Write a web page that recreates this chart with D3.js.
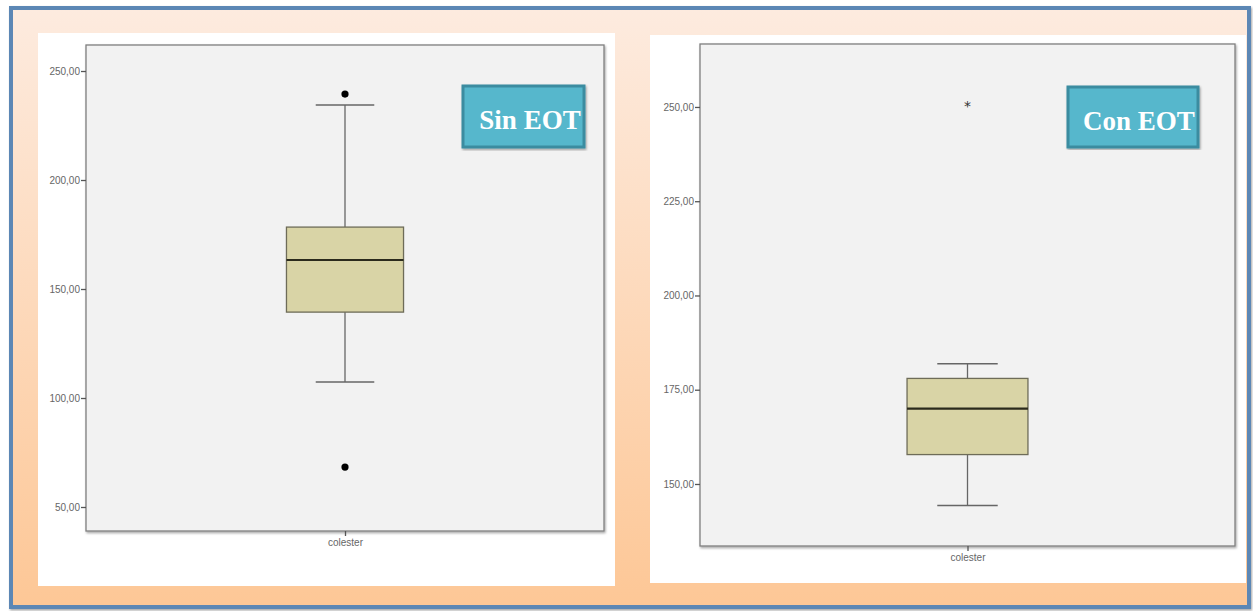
<!DOCTYPE html>
<html>
<head>
<meta charset="utf-8">
<script src="https://cdn.jsdelivr.net/npm/d3@7"></script>
<style>
  html, body { margin: 0; padding: 0; background: #ffffff; }
  svg { display: block; }
</style>
</head>
<body>
<svg id="chart" width="1253" height="611"></svg>
<script>
// ---- data ----
const groups = ["Sin EOT", "Con EOT"];
const category = ["colester"];
const whiskerLow  = [107.3, 144.3];
const q1          = [139.4, 157.8];
const median      = [163.3, 170.0];
const q3          = [178.4, 178.0];
const whiskerHigh = [234.4, 181.9];
const outliers    = [[239.4, 68.3], []];      // circles
const extremes    = [[], [251.0]];            // stars
const yTicksLeft  = [50, 100, 150, 200, 250];
const yTicksRight = [150, 175, 200, 225, 250];
const yDomains    = [[38.99, 261.93], [133.55, 266.7]];

// ---- layout ----
const svg = d3.select("#chart");
const defs = svg.append("defs");
const grad = defs.append("linearGradient").attr("id", "bg").attr("x1", 0).attr("y1", 0).attr("x2", 0).attr("y2", 1);
grad.append("stop").attr("offset", "0%").attr("stop-color", "#fdebdf");
grad.append("stop").attr("offset", "100%").attr("stop-color", "#fdc796");
const sh = defs.append("filter").attr("id", "shadow").attr("x", "-5%").attr("y", "-5%").attr("width", "110%").attr("height", "110%");
sh.append("feDropShadow").attr("dx", 1).attr("dy", 1.5).attr("stdDeviation", 1.2).attr("flood-color", "#000").attr("flood-opacity", 0.35);

// outer frame
svg.append("rect").attr("x", 11).attr("y", 8).attr("width", 1238).attr("height", 599)
  .attr("fill", "url(#bg)").attr("stroke", "#5b87b5").attr("stroke-width", 4)
  .attr("filter", "url(#shadow)");

const fmt = d3.formatLocale({decimal: ",", thousands: ".", grouping: [3], currency: ["", ""]}).format(".2f");

const panels = [
  {white: [38, 33, 577, 553], plot: [86, 45, 604, 531], ticks: yTicksLeft, label: [463, 86, 121, 61], textX: 530},
  {white: [650, 35, 596, 548], plot: [700, 44, 1235, 546], ticks: yTicksRight, label: [1068, 87, 130, 60], textX: 1139}
];

panels.forEach((p, i) => {
  const g = svg.append("g");
  g.append("rect").attr("x", p.white[0]).attr("y", p.white[1]).attr("width", p.white[2]).attr("height", p.white[3]).attr("fill", "#ffffff");

  const [x0, y0, x1, y1] = p.plot;
  const y = d3.scaleLinear().domain(yDomains[i]).range([y1, y0]);
  const x = d3.scalePoint().domain(category).range([x0, x1]).padding(0.5);
  const boxW = (x1 - x0) * 0.226;
  const cx = x(category[0]);

  // plot background with shadow
  g.append("rect").attr("x", x0).attr("y", y0).attr("width", x1 - x0).attr("height", y1 - y0)
    .attr("fill", "#f2f2f2").attr("stroke", "#7f7f7f").attr("stroke-width", 1.3).attr("filter", "url(#shadow)");

  // y axis
  const ya = g.append("g").attr("transform", `translate(${x0},0)`)
    .call(d3.axisLeft(y).tickValues(p.ticks).tickFormat(fmt).tickSize(5).tickPadding(1));
  ya.select(".domain").remove();
  ya.selectAll("line").attr("stroke", "#555").attr("stroke-width", 1.3);
  ya.selectAll("text").attr("fill", "#666").style("font-family", "Liberation Sans, Arial, sans-serif").style("font-size", "10px");

  // x axis
  const xa = g.append("g").attr("transform", `translate(0,${y1})`)
    .call(d3.axisBottom(x).tickSize(5).tickPadding(3));
  xa.select(".domain").remove();
  xa.selectAll("line").attr("stroke", "#555").attr("stroke-width", 1.3);
  xa.selectAll("text").attr("fill", "#666").style("font-family", "Liberation Sans Narrow, Liberation Sans, Arial, sans-serif").style("font-size", "10px");

  const st = "#666";
  // whiskers
  g.append("line").attr("x1", cx).attr("x2", cx).attr("y1", y(whiskerHigh[i])).attr("y2", y(q3[i])).attr("stroke", st).attr("stroke-width", 1.3);
  g.append("line").attr("x1", cx).attr("x2", cx).attr("y1", y(q1[i])).attr("y2", y(whiskerLow[i])).attr("stroke", st).attr("stroke-width", 1.3);
  [whiskerHigh[i], whiskerLow[i]].forEach(v => {
    g.append("line").attr("x1", cx - boxW / 4).attr("x2", cx + boxW / 4).attr("y1", y(v)).attr("y2", y(v)).attr("stroke", st).attr("stroke-width", 1.5);
  });
  // box
  g.append("rect").attr("x", cx - boxW / 2).attr("y", y(q3[i])).attr("width", boxW).attr("height", y(q1[i]) - y(q3[i]))
    .attr("fill", "#d9d4a6").attr("stroke", "#6e6c58").attr("stroke-width", 1.3);
  g.append("line").attr("x1", cx - boxW / 2).attr("x2", cx + boxW / 2).attr("y1", y(median[i])).attr("y2", y(median[i]))
    .attr("stroke", "#2b2a1c").attr("stroke-width", 2.2);

  // outliers
  g.selectAll(".out").data(outliers[i]).enter().append("circle")
    .attr("cx", cx).attr("cy", d => y(d)).attr("r", 3.6).attr("fill", "#000");
  g.selectAll(".ext").data(extremes[i]).enter().append("text")
    .attr("x", cx).attr("y", d => y(d) + 8).attr("text-anchor", "middle")
    .style("font-family", "DejaVu Sans, sans-serif").style("font-size", "14px").attr("fill", "#333").text("*");

  // group label
  const [lx, ly, lw, lh] = p.label;
  g.append("rect").attr("x", lx).attr("y", ly).attr("width", lw).attr("height", lh)
    .attr("fill", "#57b7cc").attr("stroke", "#3b8ca0").attr("stroke-width", 3).attr("filter", "url(#shadow)");
  g.append("text").attr("x", p.textX).attr("y", ly + 43).attr("text-anchor", "middle")
    .attr("fill", "#ffffff").style("font-family", "Liberation Serif, serif").style("font-weight", "bold").style("font-size", "27px")
    .text(groups[i]);
});
</script>
</body>
</html>
